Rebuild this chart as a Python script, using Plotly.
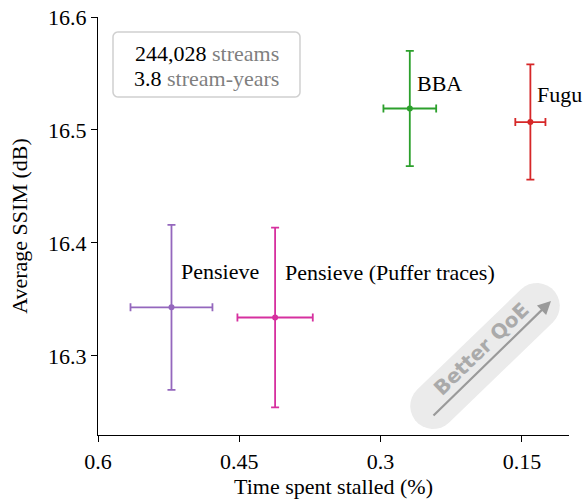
import numpy as np
import plotly.graph_objects as go

# Scheme results: stall ratio (%) and average SSIM (dB) with 95% intervals
schemes = ["Pensieve", "Pensieve (Puffer traces)", "BBA", "Fugu"]
stall_pct = [0.522, 0.412, 0.269, 0.141]
stall_err = [0.0435, 0.040, 0.028, 0.016]
ssim_db = [16.343, 16.334, 16.519, 16.507]
ssim_err = [0.073, 0.0795, 0.051, 0.051]
colors = ["#9467bd", "#d6309f", "#2ca02c", "#d62728"]
label_shift = [(8, 36), (8, 45), (5, 25), (5, 28)]

x_ticks = [0.6, 0.45, 0.3, 0.15]
x_ticktext = ["0.6", "0.45", "0.3", "0.15"]
y_ticks = [16.3, 16.4, 16.5, 16.6]

W, H = 585, 500
ML, MR, MT, MB = 98, 16, 17, 65
PW, PH = W - ML - MR, H - MT - MB
FONT = "Liberation Serif"
FS = 22


def to_paper(px, py):
    return (px - ML) / PW, 1 - (py - MT) / PH


def path_from_px(points):
    pts = [to_paper(x, y) for x, y in points]
    return "M " + " L ".join(f"{x:.5f},{y:.5f}" for x, y in pts) + " Z"


def rounded_rect(x0, y0, x1, y1, r, n=8):
    pts = []
    corners = [(x1 - r, y0 + r, -90, 0), (x1 - r, y1 - r, 0, 90),
               (x0 + r, y1 - r, 90, 180), (x0 + r, y0 + r, 180, 270)]
    for cx, cy, a0, a1 in corners:
        for a in np.linspace(np.radians(a0), np.radians(a1), n):
            pts.append((cx + r * np.cos(a), cy + r * np.sin(a)))
    return pts


def pill(cx, cy, length, width, angle_deg, n=16):
    r = width / 2
    ux, uy = np.cos(np.radians(angle_deg)), -np.sin(np.radians(angle_deg))
    half = length / 2 - r
    ends = [(cx + ux * half, cy + uy * half), (cx - ux * half, cy - uy * half)]
    base = np.arctan2(uy, ux)
    pts = []
    for (ex, ey), start in zip(ends, [base - np.pi / 2, base + np.pi / 2]):
        for a in np.linspace(start, start + np.pi, n):
            pts.append((ex + r * np.cos(a), ey + r * np.sin(a)))
    return pts


fig = go.Figure()

for name, x, xe, y, ye, c in zip(schemes, stall_pct, stall_err, ssim_db, ssim_err, colors):
    fig.add_trace(go.Scatter(
        x=[x], y=[y], mode="markers", name=name,
        marker=dict(color=c, size=6),
        error_x=dict(type="data", array=[xe], color=c, thickness=1.8, width=4),
        error_y=dict(type="data", array=[ye], color=c, thickness=1.8, width=4),
        showlegend=False,
    ))

for name, x, y, (dx, dy) in zip(schemes, stall_pct, ssim_db, label_shift):
    fig.add_annotation(x=x, y=y, text=name, showarrow=False, xanchor="left",
                       yanchor="middle", xshift=dx, yshift=dy,
                       font=dict(family=FONT, size=FS, color="black"))

shapes = [
    dict(type="path", xref="paper", yref="paper",
         path=path_from_px(rounded_rect(113, 32, 300, 97, 5)),
         line=dict(color="#d0d0d0", width=1.5), fillcolor="white", layer="above"),
    dict(type="path", xref="paper", yref="paper",
         path=path_from_px(pill(485, 356, 190, 46, 44)),
         line=dict(width=0), fillcolor="#ebebeb", layer="below"),
]

# "Better QoE" arrow, head at the upper right
ax1, ay1 = to_paper(551, 301)
fig.add_annotation(xref="paper", yref="paper", axref="pixel", ayref="pixel",
                   x=ax1, y=ay1, ax=432 - 551, ay=417 - 301, text="", showarrow=True,
                   arrowhead=2, arrowsize=1.2, arrowwidth=2.2, arrowcolor="#9a9a9a")
tx, ty = to_paper(481, 349)
fig.add_annotation(xref="paper", yref="paper", x=tx, y=ty, xanchor="center",
                   yanchor="middle", text="<b>Better QoE</b>",
                   showarrow=False, textangle=-44,
                   font=dict(family="DejaVu Sans", size=20, color="#aaaaaa"))

# Dataset summary box
for line, ypx in [("244,028 <span style='color:#7f7f7f'>streams</span>", 54),
                  ("3.8 <span style='color:#7f7f7f'>stream-years</span>", 78)]:
    lx, ly = to_paper(206.5, ypx)
    fig.add_annotation(xref="paper", yref="paper", x=lx, y=ly, xanchor="center",
                       yanchor="middle", showarrow=False, text=line,
                       font=dict(family=FONT, size=FS, color="black"))

fig.update_layout(
    width=W, height=H,
    margin=dict(l=ML, r=MR, t=MT, b=MB),
    paper_bgcolor="white", plot_bgcolor="white",
    shapes=shapes,
    font=dict(family=FONT, size=FS, color="black"),
)
axis_style = dict(
    showgrid=False, zeroline=False, showline=True, linecolor="black", linewidth=1.3,
    ticks="outside", ticklen=6, tickwidth=1.3, tickcolor="black", automargin=False,
    tickfont=dict(family=FONT, size=FS, color="black"),
)
fig.update_xaxes(
    range=[0.6, 0.1], tickvals=x_ticks, ticktext=x_ticktext, **axis_style,
    title=dict(text="Time spent stalled (%)", standoff=6,
               font=dict(family=FONT, size=FS, color="black")),
)
fig.update_yaxes(
    range=[16.23, 16.6], tickvals=y_ticks, ticktext=[f"{v:.1f}" for v in y_ticks],
    **axis_style,
    title=dict(text="Average SSIM (dB)", standoff=14,
               font=dict(family=FONT, size=FS, color="black")),
)

fig.write_html("out.html")
